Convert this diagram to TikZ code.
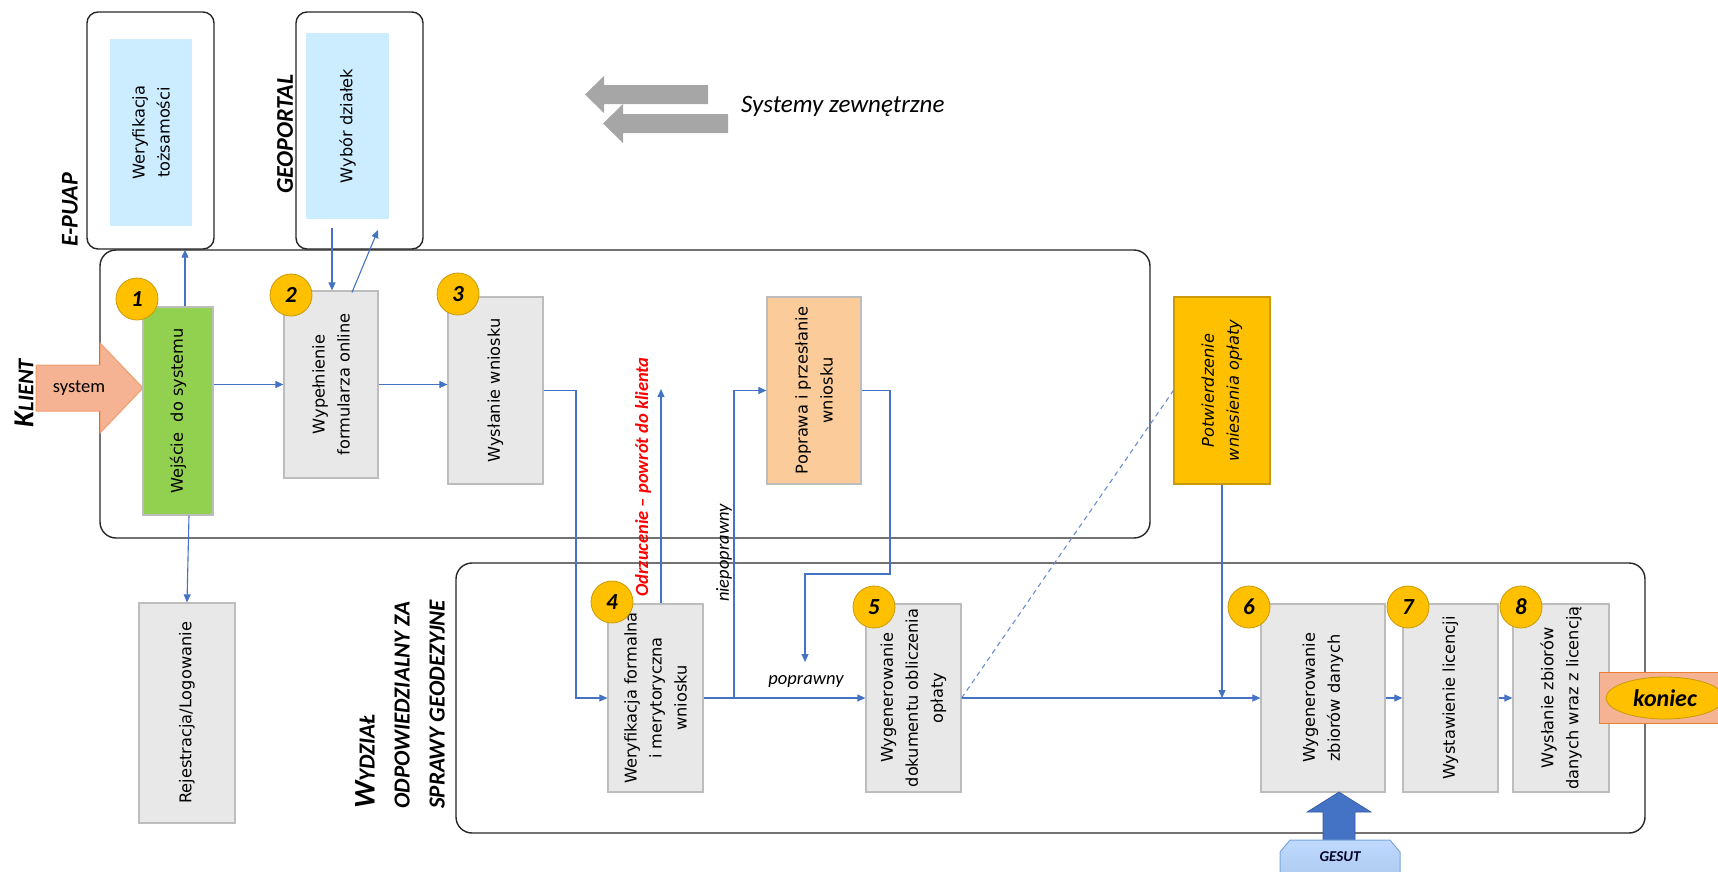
\documentclass[tikz,border=0pt]{standalone}
\usepackage{fontspec}
\setmainfont{DejaVu Sans}
\newfontfamily\calfont[Ligatures=TeX]{Carlito}
\usetikzlibrary{arrows.meta,calc,shapes.geometric}
\definecolor{linkc}{HTML}{4472C4}
\definecolor{boxfill}{HTML}{E8E8E8}
\definecolor{boxline}{HTML}{BDBDBD}
\definecolor{gold}{HTML}{FFC000}
\definecolor{goldline}{HTML}{C99A06}
\definecolor{lblue}{HTML}{CCECFF}
\definecolor{peach}{HTML}{FBCB9A}
\definecolor{green1}{HTML}{92D050}
\definecolor{salmon}{HTML}{F5B393}
\definecolor{salmonline}{HTML}{F09C6E}
\definecolor{orangeline}{HTML}{ED7D31}
\definecolor{garrow}{HTML}{A6A6A6}
\definecolor{frameline}{HTML}{262626}
\definecolor{gesutline}{HTML}{7DA7D9}
\definecolor{gesutarrow}{HTML}{4472C4}
\begin{document}
\begin{tikzpicture}[x=1pt,y=-1pt,
  frame/.style={draw=frameline, line width=1.4pt, inner sep=0pt},
  gbox/.style={draw=boxline, fill=boxfill, line width=1.2pt, inner sep=0pt},
  lbox/.style={fill=lblue, inner sep=0pt},
  txt/.style={rotate=90, align=center, inner sep=0pt, font=\fontsize{16.2}{25}\selectfont},
  badge/.style={circle, fill=gold, draw=goldline, line width=0.8pt, minimum size=42pt, inner sep=0pt,
    font=\calfont\bfseries\itshape\fontsize{23}{23}\selectfont},
  head/.style={rotate=90, inner sep=0pt, font=\calfont\bfseries\itshape\fontsize{24}{24}\selectfont},
  note/.style={rotate=90, inner sep=0pt, font=\calfont\itshape\fontsize{18.5}{18.5}\selectfont},
  link/.style={draw=linkc, line width=1.1pt, -{Triangle[length=8pt,width=7pt]}},
  dlink/.style={draw=linkc!80, line width=1.1pt, dash pattern=on 5pt off 4pt},
  gray arrow/.style={fill=garrow},
]
\useasboundingbox (0,0) rectangle (1718,871);
\clip (0,0) rectangle (1718,871);

% ---------- external systems ----------
\node[frame, rounded corners=11pt, minimum width=127pt, minimum height=237pt] (epuap) at (150.5,130.5) {};
\node[lbox, minimum width=82pt, minimum height=187pt] (wt) at (151,132.5) {};
\node[txt] (twt) at (wt) {Weryfikacja\\tożsamości};
\node[frame, rounded corners=11pt, minimum width=127pt, minimum height=237pt] (geo) at (359.5,130.5) {};
\node[lbox, minimum width=83pt, minimum height=186pt] (wd) at (347.5,126) {};
\node[txt] (twd) at (wd) {Wybór działek};
\node[head] (lepuap) at (70,210) {E-PUAP};
\node[head] (lgeo) at (285,134) {GEOPORTAL};

% gray arrows + legend
\fill[gray arrow] (585,94.5) -- (604,76) -- (604,85) -- (708,85) -- (708,104) -- (604,104) -- (604,113) -- cycle;
\fill[gray arrow] (603,123.5) -- (623,104) -- (623,114) -- (728,114) -- (728,133) -- (623,133) -- (623,143) -- cycle;
\node[anchor=west, inner sep=0pt, font=\calfont\itshape\fontsize{25}{25}\selectfont] (sysz) at (741,106) {Systemy zewnętrzne};

% ---------- frames ----------
\node[frame, rounded corners=16pt, minimum width=1050pt, minimum height=288pt] (klient) at (625,394) {};
\node[frame, rounded corners=16pt, minimum width=1189pt, minimum height=270pt] (wydz) at (1050.5,698) {};

\node[inner sep=0pt, rotate=90, font=\calfont\bfseries\itshape] (lkl) at (24,393)
  {{\fontsize{29}{29}\selectfont K}{\fontsize{22.5}{22.5}\selectfont LIENT}};
\node[rotate=90, anchor=west, align=left, inner sep=0pt,
  font=\calfont\bfseries\itshape\fontsize{23}{35}\selectfont] (lwyd) at (400,809)
  {{\fontsize{30}{35}\selectfont W}YDZIAŁ\\ODPOWIEDZIALNY ZA\\SPRAWY GEODEZYJNE};

% system arrow
\draw[fill=salmon, draw=salmonline, line width=1pt] (36,365) -- (100,365) -- (100,343) -- (143,388)
  -- (100,433) -- (100,411) -- (36,411) -- cycle;
\node[inner sep=0pt, font=\calfont\fontsize{18.5}{18.5}\selectfont] (tsys) at (79,388) {system};

% ---------- client row ----------
\node[gbox, fill=green1, minimum width=70pt, minimum height=208pt] (w1) at (178,411) {};
\node[txt] (tw1) at (w1) {Wejście\ \ do systemu};
\node[badge] (n1) at (137,299) {1};

\node[gbox, minimum width=94pt, minimum height=187pt] (b2) at (331,384.5) {};
\node[txt] (tb2) at (b2) {Wypełnienie\\formularza online};
\node[badge] (n2) at (291,295) {2};

\node[gbox, minimum width=95pt, minimum height=187pt] (b3) at (495.5,390.5) {};
\node[txt] (tb3) at (b3) {Wysłanie wniosku};
\node[badge] (n3) at (458,294) {3};

\node[gbox, fill=peach, minimum width=94pt, minimum height=187pt] (pp) at (814,390.5) {};
\node[txt] (tpp) at (pp) {Poprawa i przesłanie\\wniosku};

\node[gbox, fill=gold, draw=goldline, minimum width=96pt, minimum height=187pt] (pot) at (1222,390.5) {};
\node[txt, font=\itshape\fontsize{16.2}{25}\selectfont] (tpot) at (pot) {Potwierdzenie\\wniesienia opłaty};

\node[gbox, minimum width=96pt, minimum height=220pt] (rej) at (187,713) {};
\node[txt] (trej) at (rej) {Rejestracja/Logowanie};

% ---------- office row ----------
\node[gbox, minimum width=95pt, minimum height=188pt] (b4) at (655.5,698) {};
\node[txt] (tb4) at (b4) {Weryfikacja formalna\\i merytoryczna\\wniosku};
\node[badge] (n4) at (612,602) {4};

\node[gbox, minimum width=95pt, minimum height=188pt] (b5) at (913.5,698) {};
\node[txt] (tb5) at (b5) {Wygenerowanie\\dokumentu obliczenia\\opłaty};
\node[badge] (n5) at (874,607) {5};

\node[gbox, minimum width=124pt, minimum height=188pt] (b6) at (1323,698) {};
\node[txt] (tb6) at (b6) {Wygenerowanie\\zbiorów danych};
\node[badge] (n6) at (1249,607) {6};

\node[gbox, minimum width=95pt, minimum height=188pt] (b7) at (1450.5,698) {};
\node[txt] (tb7) at (b7) {Wystawienie licencji};
\node[badge] (n7) at (1408,607) {7};

\node[gbox, minimum width=96pt, minimum height=188pt] (b8) at (1561,698) {};
\node[txt] (tb8) at (b8) {Wysłanie zbiorów\\danych wraz z licencją};
\node[badge] (n8) at (1521,607) {8};

% koniec
\node[fill=salmon, draw=orangeline, line width=1pt, minimum width=142pt, minimum height=51pt, inner sep=0pt] (konr) at (1670,697.5) {};
\node[ellipse, fill=gold, draw=goldline, line width=0.8pt, minimum width=118pt, minimum height=42pt, inner sep=0pt,
  font=\calfont\bfseries\itshape\fontsize{24}{24}\selectfont] (kon) at (1665,698) {koniec};

% GESUT
\draw[fill=gesutarrow, draw=linkc!80!black, line width=0.6pt] (1339,792) -- (1371,812) -- (1355,812) -- (1355,846)
  -- (1323,846) -- (1323,812) -- (1307,812) -- cycle;
\path[draw=gesutline, line width=1pt, top color=blue!10!lblue!90!white, bottom color=gesutline!70]
  (1280,852) -- (1290,840) -- (1390,840) -- (1400,852) -- (1400,900) -- (1280,900) -- cycle;
\node[inner sep=0pt, text=black!85!blue, font=\calfont\bfseries\itshape\fontsize{15}{15}\selectfont] (tges) at (1340,857) {GESUT};

% ---------- connectors ----------
\coordinate (w1top) at ($(w1.north)+(7,0)$);
\draw[link] (w1top) -- (w1top |- epuap.south);
\coordinate (w1bot) at ($(w1.south)+(11,0)$);
\draw[link] (w1bot) -- (rej.north);
\coordinate (gd) at (332,228);
\draw[link] (gd) -- (gd |- b2.north);
\coordinate (gu) at (378,230);
\draw[link] ($(b2.north)+(21,2)$) -- (gu);
\draw[link] (w1.east |- b2) -- (b2.west);
\draw[link] (b2.east) -- (b2.east -| b3.west);

\coordinate (c1) at (576,698);
\draw[link] (b3.east) -| (c1) -- (b4.west);
\coordinate (rtop) at (661,389);
\draw[link] (rtop |- b4.north) -- (rtop);
\node[rotate=90, inner sep=0pt, text=red, font=\calfont\bfseries\itshape\fontsize{18.5}{18.5}\selectfont] (todrz) at (643,477)
  {Odrzucenie – powrót do klienta};

\draw[link] (b4.east) -- (b5.west);
\coordinate (c2) at (734,698);
\draw[link, -] (c2) |- ($(pp.west)+(-8,0)$);
\draw[link] ($(pp.west)+(-8,0)$) -- (pp.west);
\node[note] (tnp) at (724,553) {niepoprawny};
\node[inner sep=0pt, font=\calfont\itshape\fontsize{18.5}{18.5}\selectfont] (tp) at (806,681) {poprawny};

\coordinate (c3) at (890,574);
\coordinate (c4) at (805,662);
\draw[link] (pp.east) -| (c3) -| (c4);

\draw[dlink] (b5.east) -- (pot.west);
\draw[link] (b5.east) -- (b6.west);
\draw[link] (pot.south) -- (pot.south |- b6.west);
\draw[link] (b6.east) -- (b7.west);
\draw[link] (b7.east) -- (b8.west);
\end{tikzpicture}
\end{document}
